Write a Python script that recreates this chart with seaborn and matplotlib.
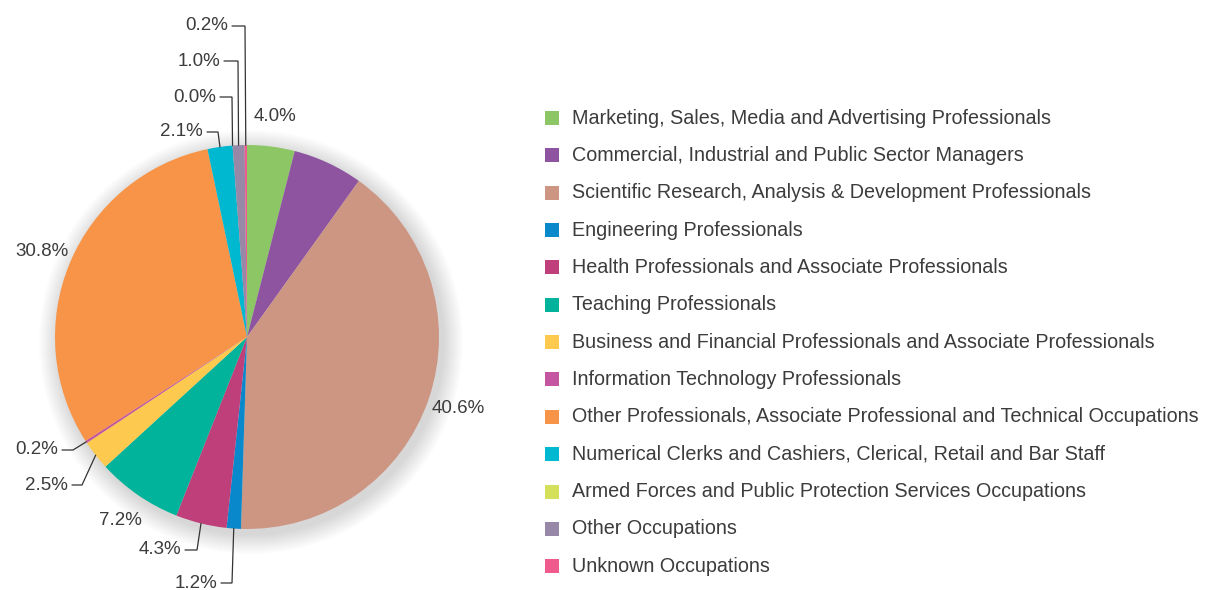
import numpy as np
import matplotlib
matplotlib.use("Agg")
import matplotlib.pyplot as plt
import seaborn as sns
from matplotlib.patches import Circle

# Occupation breakdown (share of graduates, %)
occupations = [
    "Marketing, Sales, Media and Advertising Professionals",
    "Commercial, Industrial and Public Sector Managers",
    "Scientific Research, Analysis & Development Professionals",
    "Engineering Professionals",
    "Health Professionals and Associate Professionals",
    "Teaching Professionals",
    "Business and Financial Professionals and Associate Professionals",
    "Information Technology Professionals",
    "Other Professionals, Associate Professional and Technical Occupations",
    "Numerical Clerks and Cashiers, Clerical, Retail and Bar Staff",
    "Armed Forces and Public Protection Services Occupations",
    "Other Occupations",
    "Unknown Occupations",
]
shares = [4.0, 5.9, 40.6, 1.2, 4.3, 7.2, 2.5, 0.2, 30.8, 2.1, 0.0, 1.0, 0.2]
colors = ["#8cc665", "#8e54a0", "#cc9683", "#0a88cc", "#bf3f7a", "#00b39a",
          "#fdc94f", "#c455a0", "#f79447", "#00b8cf", "#d5e05a", "#9788a8",
          "#ef5b8c"]
# label style per slice: "out" = plain text beside slice, "lead" = leader line, None = hidden
label_mode = ["out", None, "out", "lead", "lead", "out", "lead", "lead",
              "out", "lead", "lead", "lead", "lead"]

sns.set_theme(style="white")
plt.rcParams["font.family"] = ["Liberation Sans", "DejaVu Sans"]
TXT = "#3c3c3c"

W, H = 1206, 590
fig = plt.figure(figsize=(W / 100, H / 100), dpi=100)
ax = fig.add_axes([0, 0, 1, 1])

def py(y):
    # pixel row -> data y
    return H - y

cx, cy, r = 247, py(337), 192

# soft drop shadow
for k in range(20):
    ax.add_patch(Circle((cx + 4, cy - 5), r + 20 - k, color="#5a5a70",
                        alpha=0.013, lw=0, zorder=0))

wedges, _ = ax.pie(shares, colors=colors, startangle=90, counterclock=False,
                   center=(cx, cy), radius=r, frame=True,
                   wedgeprops=dict(linewidth=0))
ax.set_xlim(0, W)
ax.set_ylim(0, H)
ax.set_aspect("equal")
ax.axis("off")

# mid angles (clockwise from top, degrees)
cum = np.cumsum([0] + shares[:-1])
mids = (cum + np.array(shares) / 2) / 100 * 360

# leader layout: text right edge x, text row y, elbow (x, y) in pixels
leaders = {
    12: (228, 26, 245, 26),
    11: (220, 61, 238, 61),
    10: (216, 97, 232, 97),
    9: (203, 132, 218, 132),
    7: (58, 450, 73, 450),
    6: (68, 485, 82, 485),
    4: (181, 550, 197, 550),
    3: (217, 583, 232, 583),
}
label_fs = 13.5

for i, (v, mode) in enumerate(zip(shares, label_mode)):
    th = np.deg2rad(mids[i])
    txt = f"{v:.1f}%"
    if mode == "out":
        d = r * 1.16
        ax.text(cx + d * np.sin(th), cy + d * np.cos(th), txt, ha="center",
                va="center", fontsize=label_fs, color=TXT)
    elif mode == "lead":
        tx, ty, ex, ey = leaders[i]
        px_, py_ = cx + r * np.sin(th), cy + r * np.cos(th)
        ax.plot([tx + 4, ex, px_], [py(ty), py(ey), py_], color="#333333",
                lw=0.9, solid_joinstyle="miter")
        ax.text(tx, py(ty), txt, ha="right", va="center", fontsize=label_fs,
                color=TXT)

# legend
for i, (name, c) in enumerate(zip(occupations, colors)):
    yy = py(118 + i * 37.35)
    ax.scatter([552], [yy], marker="s", s=105, color=c, lw=0)
    ax.text(572, yy, name, ha="left", va="center", fontsize=14.2, color=TXT)

fig.savefig("out.png", dpi=100, facecolor="white")
